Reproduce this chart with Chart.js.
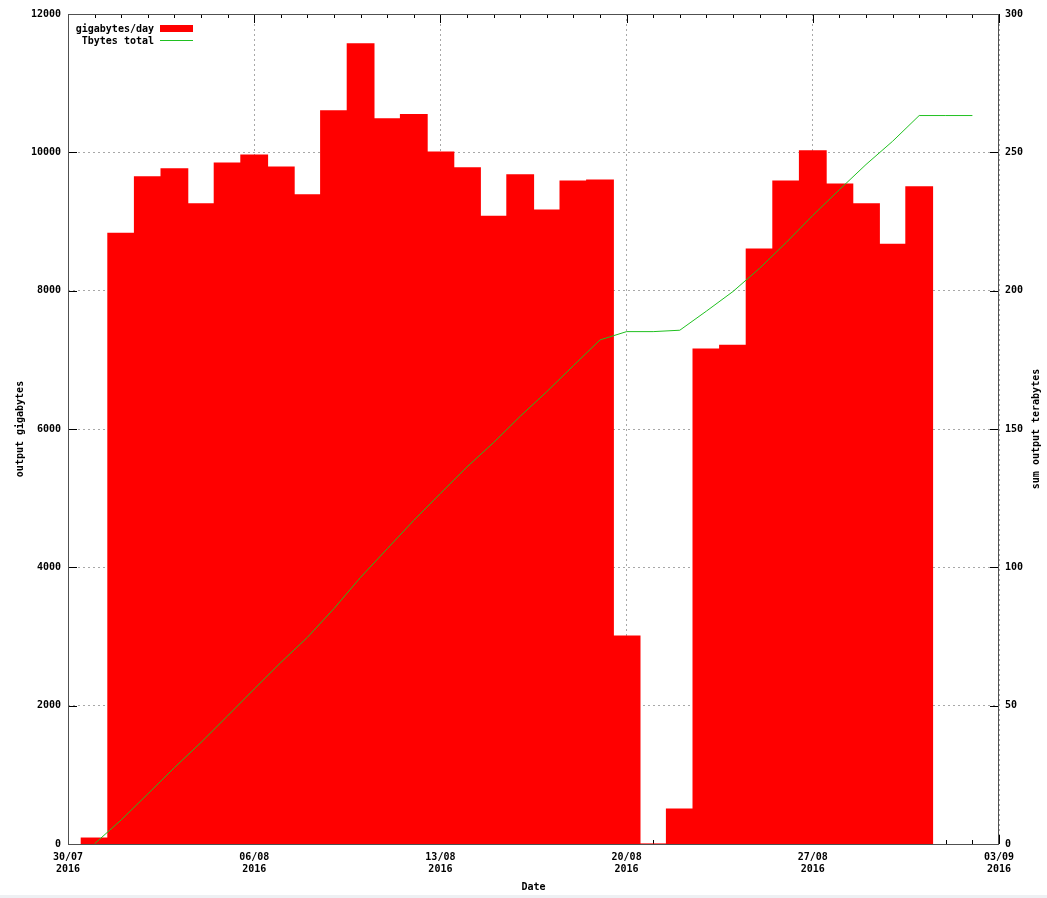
<!DOCTYPE html>
<html>
<head>
<meta charset="utf-8">
<title>output gigabytes</title>
<script src="https://cdn.jsdelivr.net/npm/chart.js@4.4.1/dist/chart.umd.min.js"></script>
<style>
    body { margin: 0; background: #eef0f3; }
    #wrap { width: 1047px; height: 895px; background: #fff; }
</style>
</head>
<body>
<div id="wrap"><canvas id="outputChart" width="1047" height="895"></canvas></div>
<script>
// Days counted from 30/07/2016 (day 0)
const barDays = [1, 2, 3, 4, 5, 6, 7, 8, 9, 10, 11, 12, 13, 14, 15, 16, 17, 18, 19, 20,
                 21, 22, 23, 24, 25, 26, 27, 28, 29, 30, 31, 32];
const gigabytesPerDay = [85, 8830, 9645, 9760, 9255, 9845, 9960, 9785, 9385, 10600, 11570, 10485,
                         10545, 10005, 9775, 9075, 9675, 9165, 9585, 9600, 3005,
                         0, 505, 7155, 7210, 8600, 9585, 10020, 9540, 9255, 8670, 9500];

const lineDays = [1, 2, 3, 4, 5, 6, 7, 8, 9, 10, 11, 12, 13, 14, 15, 16, 17, 18, 19, 20,
                  21, 22, 23, 24, 25, 26, 27, 28, 29, 30, 31, 32, 33, 34];
const tbytesTotal = [0.1, 8.7, 18.1, 27.6, 36.7, 46.3, 56.0, 65.6, 74.7, 85.1, 96.4, 106.7,
                     117.0, 126.7, 136.3, 145.1, 154.6, 163.5, 172.9, 182.2, 185.2,
                     185.2, 185.7, 192.6, 199.7, 208.1, 217.4, 227.2, 236.5, 245.6, 254.0, 263.3,
                     263.3, 263.3];

const xTickLabels = ['30/07', '06/08', '13/08', '20/08', '27/08', '03/09'];
const xTickYear = '2016';
const leftTicks = [0, 2000, 4000, 6000, 8000, 10000, 12000];
const rightTicks = [0, 50, 100, 150, 200, 250, 300];

const FONT = { family: 'DejaVu Sans Mono', size: 10, weight: 'bold' };

/**
 * gnuplot-like frame: inward tick marks, box border, legend and right title
 */
const gnuplotFrame = {
    id: 'gnuplotFrame',
    beforeDatasetsDraw(chart) {
        const { ctx, chartArea: a, scales } = chart;
        ctx.save();
        ctx.strokeStyle = '#000';
        ctx.lineWidth = 1;
        ctx.beginPath();
        // x ticks every day, major every week, bottom and top
        for (let d = 0; d <= 35; d++) {
            const x = Math.round(scales.x.getPixelForValue(d)) + 0.5;
            const len = d % 7 === 0 ? 9 : 4;
            ctx.moveTo(x, a.bottom); ctx.lineTo(x, a.bottom - len);
            ctx.moveTo(x, a.top); ctx.lineTo(x, a.top + len);
        }
        leftTicks.forEach(v => {
            const y = Math.round(scales.y.getPixelForValue(v)) + 0.5;
            ctx.moveTo(a.left, y); ctx.lineTo(a.left + 9, y);
        });
        rightTicks.forEach(v => {
            const y = Math.round(scales.y2.getPixelForValue(v)) + 0.5;
            ctx.moveTo(a.right, y); ctx.lineTo(a.right - 9, y);
        });
        ctx.stroke();
        ctx.restore();
    },
    afterDraw(chart) {
        const { ctx, chartArea: a } = chart;
        ctx.save();
        // border box
        ctx.strokeStyle = '#505050';
        ctx.lineWidth = 1;
        ctx.strokeRect(Math.round(a.left) + 0.5, Math.round(a.top) + 0.5,
                       Math.round(a.right - a.left) - 1, Math.round(a.bottom - a.top));

        // legend
        ctx.font = 'bold 10px "DejaVu Sans Mono"';
        ctx.fillStyle = '#000';
        ctx.textAlign = 'right';
        ctx.textBaseline = 'middle';
        const ds = chart.data.datasets;
        ctx.fillText(ds[0].label, 154, 29);
        ctx.fillText(ds[1].label, 154, 41);
        ctx.fillStyle = ds[0].backgroundColor;
        ctx.fillRect(160, 25, 33, 7);
        ctx.strokeStyle = ds[1].borderColor;
        ctx.beginPath();
        ctx.moveTo(160, 40.5); ctx.lineTo(193, 40.5);
        ctx.stroke();

        // right axis title, reading bottom to top like gnuplot
        ctx.fillStyle = '#000';
        ctx.textAlign = 'center';
        ctx.translate(1036, (a.top + a.bottom) / 2);
        ctx.rotate(-Math.PI / 2);
        ctx.fillText('sum output terabytes', 0, 0);
        ctx.restore();
    }
};

document.addEventListener('DOMContentLoaded', function() {
    if (typeof Chart === 'undefined') {
        console.error('Chart.js is not loaded');
        return;
    }
    Chart.defaults.font = FONT;
    Chart.defaults.color = '#000';

    const ctx = document.getElementById('outputChart').getContext('2d');
    const plainNumber = function(value) { return String(value); };

    new Chart(ctx, {
        data: {
            datasets: [{
                type: 'bar',
                label: 'gigabytes/day',
                data: barDays.map((d, i) => ({ x: d, y: gigabytesPerDay[i] })),
                backgroundColor: '#ff0000',
                borderWidth: 0,
                inflateAmount: 0.6,
                barPercentage: 1.0,
                categoryPercentage: 1.0,
                yAxisID: 'y',
                order: 1
            }, {
                type: 'line',
                label: 'Tbytes total',
                data: lineDays.map((d, i) => ({ x: d, y: tbytesTotal[i] })),
                borderColor: '#20c020',
                borderWidth: 1,
                pointRadius: 0,
                tension: 0,
                fill: false,
                yAxisID: 'y2',
                order: 0
            }]
        },
        options: {
            responsive: false,
            animation: false,
            layout: { padding: { top: 14, left: 0, right: 0, bottom: 0 } },
            plugins: {
                legend: { display: false },
                tooltip: { enabled: false }
            },
            scales: {
                x: {
                    type: 'linear',
                    offset: false,
                    min: 0,
                    max: 35,
                    afterFit: function(scale) { scale.height = 51; },
                    grid: {
                        offset: false,
                        color: '#a8a8a8',
                        drawTicks: false
                    },
                    border: { display: false, dash: [2, 3] },
                    ticks: {
                        stepSize: 7,
                        padding: 7,
                        maxRotation: 0,
                        autoSkip: false,
                        callback: function(value) {
                            return [xTickLabels[value / 7], xTickYear];
                        }
                    },
                    title: {
                        display: true,
                        text: 'Date',
                        padding: { top: 0, bottom: 2 }
                    }
                },
                y: {
                    position: 'left',
                    min: 0,
                    max: 12000,
                    afterFit: function(scale) { scale.width = 68; },
                    grid: { color: '#a8a8a8', drawTicks: false },
                    border: { display: false, dash: [2, 3] },
                    ticks: { stepSize: 2000, padding: 7, callback: plainNumber },
                    title: {
                        display: true,
                        text: 'output gigabytes',
                        padding: { top: 14, bottom: 0 }
                    }
                },
                y2: {
                    position: 'right',
                    min: 0,
                    max: 300,
                    afterFit: function(scale) { scale.width = 48; },
                    grid: { display: false, drawTicks: false },
                    border: { display: false },
                    ticks: { stepSize: 50, padding: 6, callback: plainNumber }
                }
            }
        },
        plugins: [gnuplotFrame]
    });
});
</script>
</body>
</html>
